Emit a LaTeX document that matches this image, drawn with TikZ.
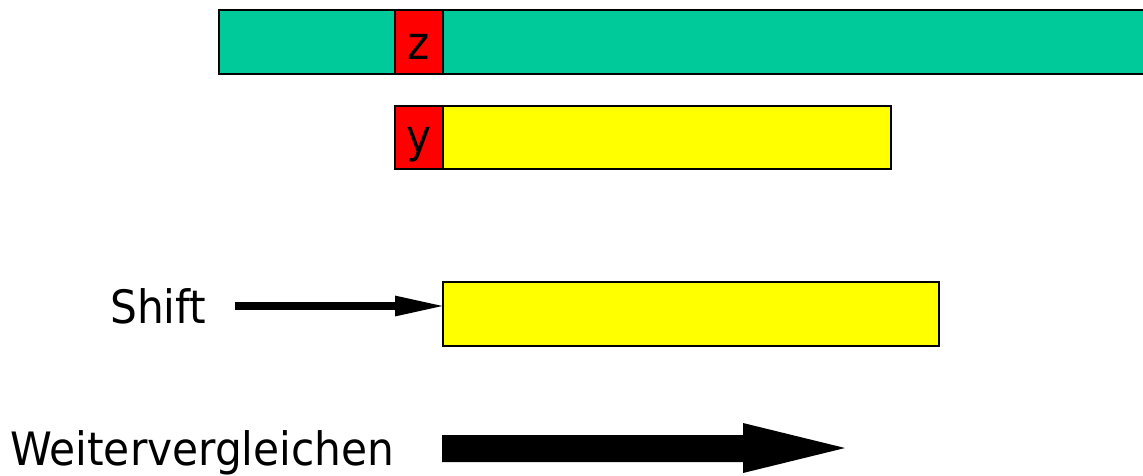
\documentclass[tikz,border=0pt]{standalone}
\usepackage{fontspec}
\setmainfont{DejaVu Sans}
\usetikzlibrary{arrows.meta}
\definecolor{barGreen}{RGB}{0,201,154}
\definecolor{barRed}{RGB}{255,0,0}
\definecolor{barYellow}{RGB}{255,255,0}
\tikzset{
  bar/.style={draw=black, line width=2pt, inner sep=0pt, outer sep=0pt},
  lbl/.style={inner sep=0pt, font=\fontsize{46}{52}\selectfont},
}
\begin{document}
\begin{tikzpicture}[x=1pt,y=-1pt]
\useasboundingbox (0,0) rectangle (1143,475);
\clip (0,0) rectangle (1143,475);
% green row
\draw[bar, fill=barGreen] (219,10) rectangle (1150,74);
\draw[bar, fill=barRed] (395,10) rectangle (443,74);
\node[lbl, anchor=base] (z) at (419,59) {\scalebox{0.92}[1]{z}};
% yellow row with y
\draw[bar, fill=barYellow] (395,106) rectangle (891,169);
\draw[bar, fill=barRed] (395,106) rectangle (443,169);
\node[lbl, anchor=base] (y) at (419,152) {\scalebox{0.92}[1]{y}};
% shifted yellow bar
\node[bar, fill=barYellow, minimum width=496pt, minimum height=64pt, anchor=north west] (bar3) at (443,282) {};
% Shift
\node[lbl, anchor=base west] (shift) at (110,323) {\scalebox{0.92}[1]{Shift}};
\coordinate (sstart) at (235,306);
\draw[line width=8.5pt, shorten >=-5pt, -{Triangle[length=53pt,width=18pt]}] (sstart) -- (bar3.west |- sstart);
% Weitervergleichen
\node[lbl, anchor=base west] (weiter) at (10,465) {\scalebox{0.92}[1]{Weitervergleichen}};
\fill[black] (442,435) -- (743,435) -- (743,423) -- (845,448) -- (743,473) -- (743,462) -- (442,462) -- cycle;
\end{tikzpicture}
\end{document}
